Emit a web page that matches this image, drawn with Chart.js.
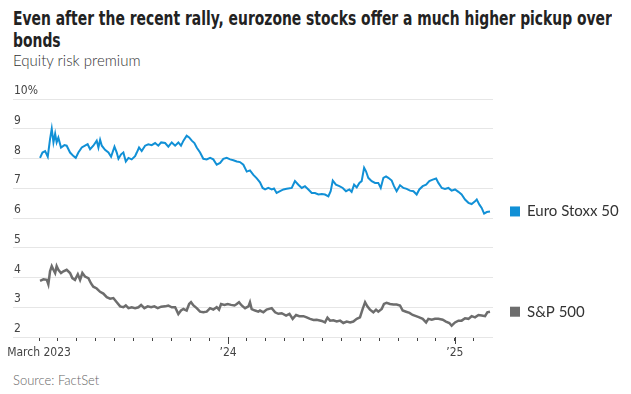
<!DOCTYPE html>
<html>
<head>
<meta charset="utf-8">
<script src="https://cdn.jsdelivr.net/npm/chart.js@4"></script>
<style>
  body { margin: 0; background: #fff; width: 631px; height: 394px; overflow: hidden; position: relative; }
  .tl { position: absolute; left: 13px; white-space: nowrap; transform-origin: 0 50%; font: bold 20px/22px "DejaVu Sans Condensed", "Roboto", sans-serif; color: #222; }
  #sub { position: absolute; left: 13px; top: 51px; font: 300 15px "Lato", "Noto Sans", sans-serif; color: #333; }
  #source { position: absolute; left: 13px; top: 372px; font: 300 13px "Lato", "Noto Sans", sans-serif; color: #666; }
  canvas { position: absolute; left: 0; top: 0; }
</style>
</head>
<body>
<div class="tl" id="t1" style="top:7px">Even after the recent rally, eurozone stocks offer a much higher pickup over</div>
<div class="tl" id="t2" style="top:29px">bonds</div>
<div id="sub">Equity risk premium</div>
<div id="source">Source: FactSet</div>
<canvas id="erpChart" width="631" height="394"></canvas>
<script>
// months since March 1, 2023
const euroMonths = [0.05,0.18,0.32,0.46,0.58,0.67,0.76,0.85,0.93,1.02,1.16,1.34,1.46,1.64,1.82,1.94,2.08,2.26,2.43,2.57,2.70,2.87,3.05,3.14,3.23,3.32,3.49,3.67,3.81,3.99,4.11,4.20,4.34,4.46,4.59,4.73,4.90,5.08,5.17,5.29,5.43,5.61,5.78,5.96,6.14,6.31,6.46,6.67,6.84,7.02,7.20,7.37,7.51,7.64,7.81,7.94,8.08,8.22,8.34,8.52,8.69,8.87,9.05,9.22,9.40,9.58,9.75,9.93,10.11,10.28,10.46,10.63,10.81,10.99,11.16,11.34,11.52,11.69,11.83,11.96,12.13,12.31,12.43,12.57,12.75,12.93,13.10,13.37,13.54,13.72,13.90,14.07,14.25,14.43,14.60,14.78,14.96,15.13,15.31,15.43,15.54,15.71,15.89,16.07,16.24,16.42,16.54,16.67,16.81,16.95,17.07,17.20,17.30,17.42,17.60,17.78,17.95,18.08,18.22,18.36,18.48,18.66,18.78,18.92,19.10,19.28,19.45,19.63,19.81,19.98,20.12,20.30,20.48,20.65,20.83,21.01,21.13,21.31,21.48,21.66,21.83,22.01,22.19,22.36,22.54,22.72,22.89,23.07,23.16,23.30,23.42,23.55,23.69,23.86];
const euroValues = [8.02,8.2,8.25,8.06,8.65,9.0,8.54,8.83,8.54,8.7,8.37,8.45,8.43,8.2,8.08,8.02,8.2,8.37,8.43,8.48,8.31,8.43,8.6,8.37,8.63,8.43,8.29,8.2,8.06,8.4,8.2,7.99,8.14,8.2,7.9,8.02,7.97,8.08,8.2,8.37,8.25,8.43,8.48,8.45,8.52,8.43,8.54,8.52,8.4,8.54,8.43,8.54,8.43,8.6,8.77,8.71,8.6,8.52,8.37,8.2,7.99,7.97,8.02,7.97,7.79,7.85,7.99,8.02,7.97,7.94,7.9,7.88,7.79,7.56,7.6,7.45,7.33,7.2,7.01,6.96,7.01,6.96,6.99,6.84,6.9,6.96,6.98,7.01,7.24,7.12,7.01,7.07,6.96,6.84,6.84,6.79,6.81,6.79,6.73,6.9,7.26,7.12,7.07,7.01,6.9,6.96,6.88,7.12,7.03,7.18,7.24,7.69,7.57,7.35,7.24,7.18,7.18,7.01,7.35,7.4,7.35,7.26,7.07,6.9,7.1,7.01,6.98,6.92,6.9,6.79,6.96,7.07,7.12,7.24,7.29,7.33,7.18,7.01,6.98,7.01,6.92,6.96,6.88,6.79,6.62,6.51,6.47,6.56,6.62,6.45,6.34,6.15,6.2,6.22];

const spMonths = [0.05,0.23,0.41,0.49,0.58,0.67,0.76,0.85,0.93,1.02,1.16,1.29,1.46,1.64,1.76,1.90,2.05,2.17,2.29,2.43,2.61,2.75,2.87,3.05,3.23,3.40,3.58,3.76,3.93,4.11,4.29,4.46,4.59,4.73,4.90,5.08,5.26,5.40,5.57,5.75,5.93,6.10,6.28,6.46,6.67,6.84,7.02,7.20,7.37,7.51,7.64,7.81,7.94,8.04,8.17,8.34,8.52,8.69,8.87,9.05,9.22,9.40,9.52,9.63,9.81,9.98,10.16,10.34,10.46,10.58,10.72,10.90,11.08,11.16,11.25,11.43,11.60,11.69,11.87,12.04,12.31,12.49,12.66,12.84,13.07,13.25,13.42,13.60,13.77,13.99,14.16,14.34,14.52,14.69,14.96,15.13,15.26,15.40,15.57,15.75,15.93,16.10,16.28,16.46,16.63,16.81,16.98,17.12,17.25,17.37,17.51,17.69,17.83,17.95,18.13,18.25,18.39,18.57,18.75,18.92,19.10,19.24,19.42,19.60,19.77,19.95,20.12,20.30,20.48,20.60,20.78,20.95,21.13,21.36,21.53,21.71,21.83,22.01,22.19,22.36,22.54,22.72,22.89,23.07,23.25,23.42,23.60,23.72,23.86];
const spValues = [3.89,3.94,3.92,3.77,4.21,4.38,4.26,4.15,4.38,4.26,4.15,4.21,4.26,4.15,3.98,3.92,4.11,3.92,4.15,4.03,3.98,3.8,3.69,3.63,3.52,3.46,3.34,3.29,3.31,3.17,3.03,3.0,3.06,2.97,3.0,2.97,3.0,3.08,2.97,3.03,3.0,3.03,2.97,3.02,3.03,3.06,3.0,3.0,2.77,2.89,2.94,2.89,3.11,3.17,3.06,2.97,2.85,2.83,2.85,2.97,2.92,3.0,2.92,3.11,3.08,3.11,3.08,3.06,3.11,3.17,3.06,2.97,3.03,3.17,2.94,2.89,2.85,2.89,2.83,2.92,2.97,2.83,2.78,2.8,2.72,2.78,2.61,2.74,2.7,2.7,2.66,2.61,2.57,2.58,2.54,2.49,2.65,2.55,2.56,2.52,2.55,2.47,2.52,2.49,2.52,2.61,2.66,2.94,3.17,3.03,2.92,2.83,2.92,2.85,2.94,3.11,3.15,3.11,3.09,3.09,3.06,2.89,2.85,2.81,2.74,2.7,2.66,2.61,2.49,2.61,2.58,2.61,2.61,2.58,2.52,2.47,2.38,2.49,2.55,2.55,2.63,2.61,2.7,2.66,2.74,2.72,2.7,2.83,2.85];

const xTickValues = [0,1,2,3,4,5,6,7,8,9,10,11,12,13,14,15,16,17,18,19,20,21,22,23];
const xTickLabels = ['March 2023','','','','','','','','','','\u201924','','','','','','','','','','','','\u201925',''];
const majorTicks = [10, 22];
const yTicks = [2, 3, 4, 5, 6, 7, 8, 9, 10];

const seriesNames = ['Euro Stoxx 50', 'S&P 500'];
const seriesColors = ['#1190d6', '#6d6d6d'];

const toPoints = (xs, ys) => xs.map((x, i) => ({ x: x, y: ys[i] }));

// squeeze the headline to the narrow width of the original
const t1 = document.getElementById('t1');
const squeeze = 599 / t1.scrollWidth;
document.querySelectorAll('.tl').forEach(el => { el.style.transform = 'scaleX(' + squeeze + ')'; });

// bits the library doesn't do: longer major ticks and end-of-line labels
const extras = {
    id: 'extras',
    afterDraw(chart) {
        const c = chart.ctx;
        const xs = chart.scales.x;
        const ys = chart.scales.y;
        c.save();
        c.strokeStyle = '#444';
        c.lineWidth = 1;
        majorTicks.forEach(v => {
            const px = Math.round(xs.getPixelForValue(v)) + 0.5;
            c.beginPath();
            c.moveTo(px, xs.top);
            c.lineTo(px, xs.top + 7);
            c.stroke();
        });
        c.font = '15px Lato, "Noto Sans", sans-serif';
        c.textBaseline = 'middle';
        chart.data.datasets.forEach((ds, i) => {
            const last = ds.data[ds.data.length - 1];
            const py = ys.getPixelForValue(last.y);
            const left = chart.chartArea.right + 17;
            c.fillStyle = seriesColors[i];
            c.fillRect(left, py - 5, 10, 10);
            c.fillStyle = '#333';
            c.fillText(seriesNames[i], left + 17, py);
        });
        c.restore();
    }
};

const ctx = document.getElementById('erpChart').getContext('2d');

const erpChart = new Chart(ctx, {
    type: 'line',
    data: {
        datasets: [{
            label: seriesNames[0],
            data: toPoints(euroMonths, euroValues),
            borderColor: seriesColors[0],
            borderWidth: 2,
            pointRadius: 0,
            tension: 0
        }, {
            label: seriesNames[1],
            data: toPoints(spMonths, spValues),
            borderColor: seriesColors[1],
            borderWidth: 2.5,
            pointRadius: 0,
            tension: 0
        }]
    },
    options: {
        responsive: false,
        animation: false,
        layout: { padding: { left: 13, right: 138, top: 99, bottom: 27 } },
        plugins: { legend: { display: false }, tooltip: { enabled: false } },
        scales: {
            x: {
                type: 'linear',
                min: -1.38,
                max: 24.02,
                afterBuildTicks: s => { s.ticks = xTickValues.map(v => ({ value: v })); },
                afterFit: s => { s.height = 30; },
                border: { display: false },
                grid: { drawOnChartArea: false, tickLength: 4, color: '#444' },
                ticks: {
                    autoSkip: false,
                    maxRotation: 0,
                    padding: 5,
                    color: '#444',
                    font: { family: '"DejaVu Sans Condensed", sans-serif', size: 12 },
                    callback: (v, i) => xTickLabels[i]
                }
            },
            y: {
                min: 2,
                max: 10,
                afterBuildTicks: s => { s.ticks = yTicks.map(v => ({ value: v })); },
                afterFit: s => { s.width = 0; },
                border: { display: false },
                grid: { color: '#e6e6e6', drawTicks: false },
                ticks: {
                    mirror: true,
                    padding: 1,
                    labelOffset: -8,
                    color: '#444',
                    font: { family: '"DejaVu Sans Condensed", sans-serif', size: 12 },
                    callback: v => v === 10 ? '10%' : v
                }
            }
        }
    },
    plugins: [extras]
});
</script>
</body>
</html>
